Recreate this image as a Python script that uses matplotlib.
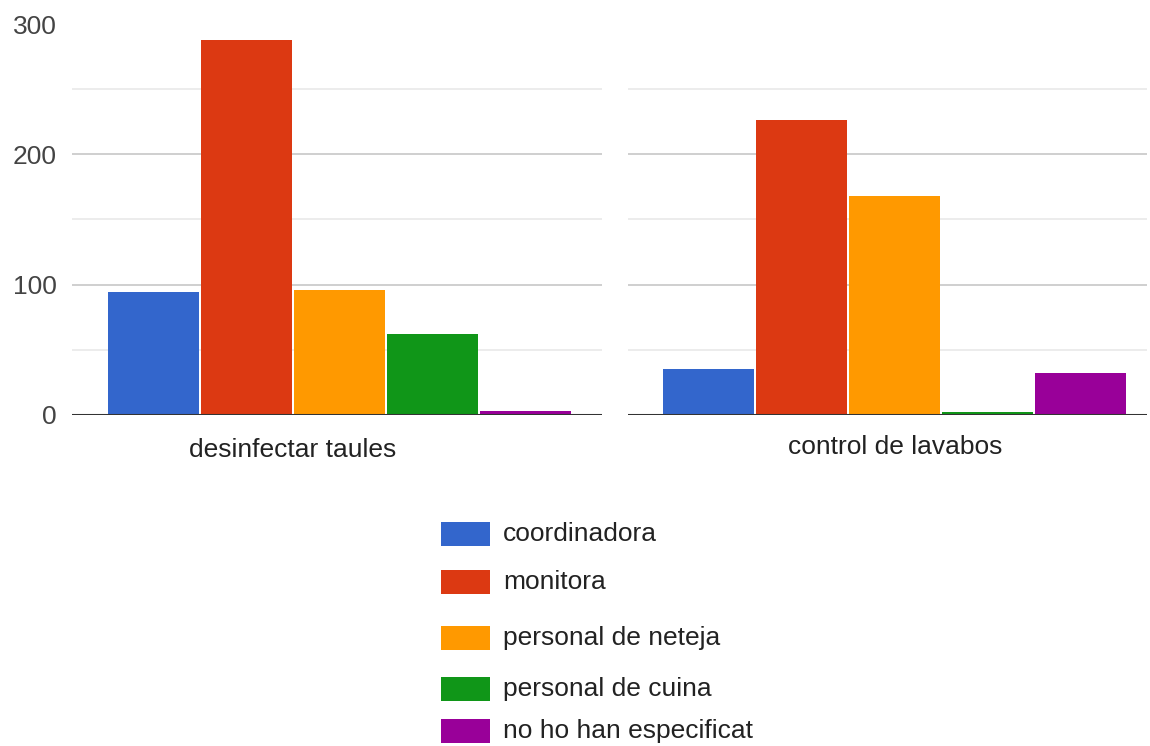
import matplotlib
matplotlib.use("Agg")
import matplotlib.pyplot as plt
from matplotlib.patches import Rectangle

plt.rcParams['font.family'] = ['Liberation Sans', 'DejaVu Sans']

categories = ["desinfectar taules", "control de lavabos"]
series = ["coordinadora", "monitora", "personal de neteja", "personal de cuina", "no ho han especificat"]
values = {
    "desinfectar taules": [94, 288, 96, 62, 3],
    "control de lavabos": [35, 226, 168, 2, 32],
}
colors = ["#3366cc", "#dc3912", "#ff9900", "#109618", "#990099"]
yticks = [0, 100, 200, 300]
minor_ticks = [50, 150, 250]

W, H = 1150, 746
fig = plt.figure(figsize=(W / 100, H / 100), dpi=100)

def px_axes(x0, x1, y0, y1):
    return fig.add_axes([x0 / W, 1 - y1 / H, (x1 - x0) / W, (y1 - y0) / H])

panels = [
    dict(x0=72, x1=602, center=267.5, label_x=293, label_y=450, show_y=True),
    dict(x0=628, x1=1147, center=266.5, label_x=895, label_y=447, show_y=False),
]
top_px, base_px = 24, 415
bar_step = 93.2
bar_w = 91

for cat, p in zip(categories, panels):
    ax = px_axes(p["x0"], p["x1"], top_px, base_px)
    ax.set_xlim(0, p["x1"] - p["x0"])
    ax.set_ylim(0, 300)
    for v in minor_ticks:
        ax.axhline(v, color="#ebebeb", lw=1.3, zorder=0)
    for v in yticks[1:-1]:
        ax.axhline(v, color="#cccccc", lw=1.3, zorder=0)
    for i, (val, c) in enumerate(zip(values[cat], colors)):
        ax.bar(p["center"] + (i - 2) * bar_step, val, width=bar_w, color=c, zorder=2)
    ax.axhline(0, color="#333333", lw=2.2, zorder=3)
    for s in ax.spines.values():
        s.set_visible(False)
    ax.set_xticks([])
    ax.tick_params(axis="y", length=0)
    if p["show_y"]:
        ax.set_yticks(yticks)
        ax.set_yticklabels([str(t) for t in yticks], fontsize=19, color="#444444")
        ax.tick_params(axis="y", pad=11)
    else:
        ax.set_yticks([])
    fig.text(p["label_x"] / W, 1 - p["label_y"] / H, cat, ha="center", va="center",
             fontsize=19, color="#222222")

legend_rows = [534, 582, 638, 689, 731]
for name, c, yc in zip(series, colors, legend_rows):
    fig.patches.append(Rectangle((441 / W, 1 - (yc + 12) / H), 49 / W, 24 / H,
                                 transform=fig.transFigure, facecolor=c, edgecolor="none"))
    fig.text(503 / W, 1 - yc / H, name, ha="left", va="center", fontsize=19, color="#222222")

fig.savefig("out.png", dpi=100, facecolor="white")
